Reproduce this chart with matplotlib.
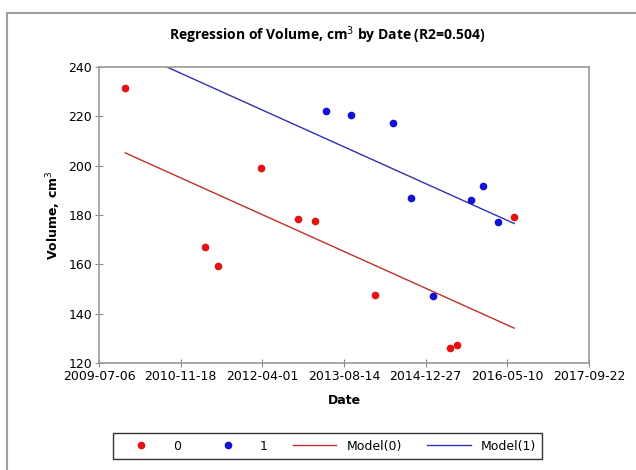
import matplotlib
matplotlib.use("Agg")
import matplotlib.dates as mdates
import matplotlib.pyplot as plt
import numpy as np
from matplotlib.lines import Line2D
from matplotlib.patches import Rectangle

# group 0 (red) and group 1 (blue) observations
dates_0 = ["2009-12-14", "2011-04-15", "2011-07-06", "2012-03-25", "2012-11-03",
           "2013-02-15", "2014-02-19", "2015-05-26", "2015-07-06", "2016-06-21"]
volume_0 = [231.4, 166.9, 159.3, 198.9, 178.4, 177.5, 147.6, 126.2, 127.3, 179.3]

dates_1 = ["2013-04-25", "2013-09-23", "2014-06-07", "2014-09-27", "2015-02-07",
           "2015-09-28", "2015-12-16", "2016-03-15"]
volume_1 = [222.3, 220.7, 217.2, 186.9, 147.0, 186.0, 191.8, 177.3]

tick_dates = ["2009-07-06", "2010-11-18", "2012-04-01", "2013-08-14",
              "2014-12-27", "2016-05-10", "2017-09-22"]

x0 = mdates.datestr2num(dates_0)
x1 = mdates.datestr2num(dates_1)
y0 = np.array(volume_0)
y1 = np.array(volume_1)

# common slope, separate intercept per group
xs = np.concatenate([x0, x1])
ys = np.concatenate([y0, y1])
grp = np.concatenate([np.zeros(len(x0)), np.ones(len(x1))])
design = np.column_stack([np.ones_like(xs), xs, grp])
coef, *_ = np.linalg.lstsq(design, ys, rcond=None)
xline = np.array([xs.min(), xs.max()])

fig = plt.figure(figsize=(6.36, 4.70), dpi=100)
fig.patches.append(Rectangle((7 / 636, -0.1), 1.2, 1.1 - 13 / 470, transform=fig.transFigure,
                             fill=False, edgecolor="#a0a0a0", linewidth=1.5, clip_on=False))
ax = fig.add_axes([99 / 636, 107 / 470, 490 / 636, 296 / 470])

ax.plot(xline, coef[0] + coef[1] * xline, color="#c0302a", linewidth=1.0, label="Model(0)")
ax.plot(xline, coef[0] + coef[2] + coef[1] * xline, color="#3030b0", linewidth=1.0, label="Model(1)")
ax.plot(x0, y0, "o", color="#e81010", markersize=4.5, linestyle="none", label="0")
ax.plot(x1, y1, "o", color="#1010d8", markersize=4.5, linestyle="none", label="1")

ticks = mdates.datestr2num(tick_dates)
ax.set_xlim(ticks[0], ticks[-1])
ax.set_xticks(ticks)
ax.xaxis.set_major_formatter(mdates.DateFormatter("%Y-%m-%d"))
ax.set_ylim(120, 240)
ax.set_yticks(np.arange(120, 241, 20))
ax.tick_params(direction="inout", length=6, width=0.8, color="#888888", labelsize=9, pad=2)
for s in ax.spines.values():
    s.set_color("#999999")
    s.set_linewidth(1.2)

fig.text(0.515, 0.926, "Regression of Volume, cm$^3$ by Date (R2=0.504)",
         ha="center", va="center", fontsize=10, fontweight="bold", family="Open Sans")
ax.set_xlabel("Date", fontsize=9, fontweight="bold", labelpad=8)
ax.set_ylabel("Volume, cm$^3$", fontsize=9, fontweight="bold", labelpad=4)

handles = [
    Line2D([], [], marker="o", color="#e81010", markersize=4.5, linestyle="none"),
    Line2D([], [], marker="o", color="#1010d8", markersize=4.5, linestyle="none"),
    Line2D([], [], color="#c0302a", linewidth=1.0),
    Line2D([], [], color="#3030b0", linewidth=1.0),
]
leg = fig.legend(handles, ["0", "1", "Model(0)", "Model(1)"], loc="center",
                 bbox_to_anchor=(0.515, 0.051), ncol=4, frameon=True, fancybox=False,
                 fontsize=9, handlelength=3.5, columnspacing=2.0, borderpad=0.5)
leg.get_frame().set_edgecolor("black")
leg.get_frame().set_linewidth(1.0)

fig.savefig("out.png", dpi=100)
